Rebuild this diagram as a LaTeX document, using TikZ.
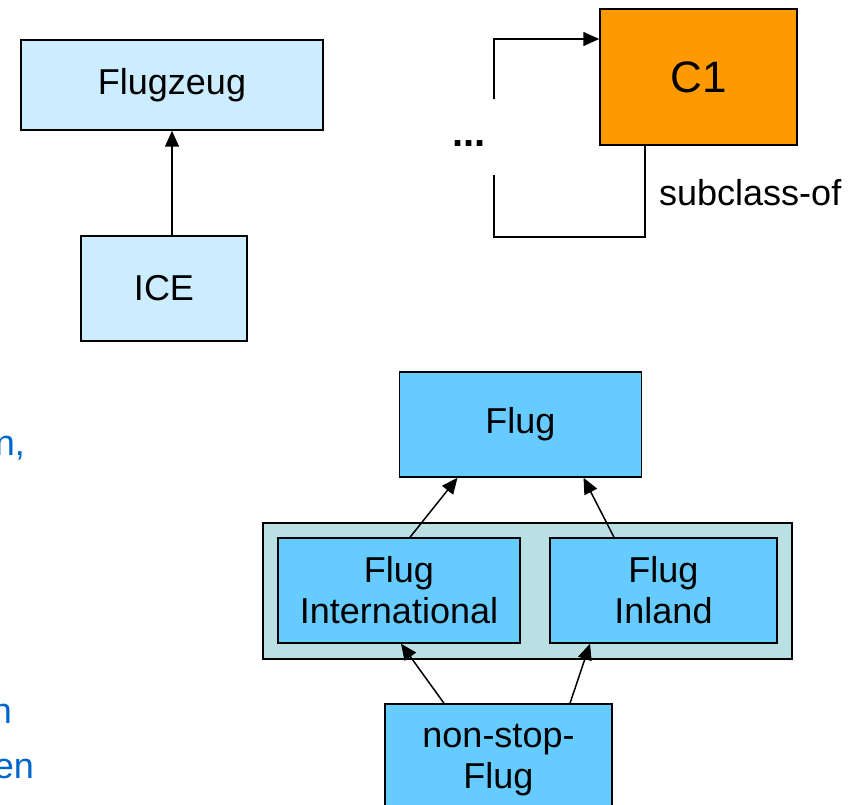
\documentclass[tikz,border=0pt]{standalone}
\usepackage{fontspec}
\setmainfont{Liberation Sans}
\usepackage{xcolor}
\usetikzlibrary{arrows.meta,positioning}
\definecolor{paleblue}{HTML}{CCECFF}
\definecolor{skyblue}{HTML}{66CCFF}
\definecolor{groupfill}{HTML}{BBE0E3}
\definecolor{orangebox}{HTML}{FF9900}
\definecolor{textblue}{HTML}{0066CC}
\tikzset{
  cls/.style={draw=black, line width=1.5pt, fill=skyblue, inner sep=0pt,
              font=\fontsize{36}{41}\selectfont, align=center},
  arr/.style={-{Triangle[length=16pt, width=14pt]}, line width=1.5pt},
  conn/.style={line width=1.5pt}
}
\begin{document}
\begin{tikzpicture}[x=1pt, y=-1pt]
  \clip (0,0) rectangle (859,805);
  % left: Flugzeug / ICE
  \node[cls, fill=paleblue, minimum width=302pt, minimum height=90pt] (flugzeug) at (172,85) {Flugzeug};
  \node[cls, fill=paleblue, minimum width=166pt, minimum height=105pt] (ice) at (164,288.5) {ICE};
  \draw[arr] (ice.north -| flugzeug.south) -- (flugzeug.south);
  % right: C1 with subclass-of loop
  \node[cls, fill=orangebox, minimum width=197pt, minimum height=136pt,
        font=\fontsize{44}{50}\selectfont] (c1) at (698.5,77) {C1};
  \coordinate (gapbot) at (494,175);
  \coordinate (gaptop) at (494,99);
  \draw[conn] ([xshift=-53.5pt]c1.south) -- ++(0,91) -| (gapbot);
  \draw[arr] (gaptop) |- ([yshift=38pt]c1.west);
  \node[font=\fontsize{40}{41}\selectfont\bfseries] (dots) at (469,144) {...};
  \node[anchor=west, inner sep=0pt, font=\fontsize{36}{41}\selectfont] (sublabel) at (659,193) {subclass-of};
  % bottom: Flug hierarchy
  \node[draw=black, line width=1.5pt, fill=groupfill, minimum width=529pt, minimum height=136pt] (group) at (527.5,591) {};
  \node[cls, minimum width=242pt, minimum height=105pt] (flug) at (520.5,424.5) {Flug};
  \node[cls, minimum width=242pt, minimum height=105pt] (intl) at (399,590.5) {Flug\\International};
  \node[cls, minimum width=227pt, minimum height=105pt] (inland) at (663.5,590.5) {Flug\\Inland};
  \node[cls, minimum width=227pt, minimum height=112pt] (nonstop) at (498.5,760) {non-stop-\\Flug};
  \draw[arr] ([xshift=11pt]intl.north) -- ([xshift=-63pt]flug.south);
  \draw[arr] ([xshift=-49.5pt]inland.north) -- ([xshift=63pt]flug.south);
  \draw[arr] ([xshift=-54.5pt]nonstop.north) -- ([xshift=2pt]intl.south);
  \draw[arr] ([xshift=71.5pt]nonstop.north) -- ([xshift=-73.5pt]inland.south);
  % cut-off text on the left
  \node[anchor=base east, inner sep=0pt, text=textblue, font=\fontsize{36}{41}\selectfont] (txta) at (25,455) {n,};
  \node[anchor=base east, inner sep=0pt, text=textblue, font=\fontsize{36}{41}\selectfont] (txtb) at (12,723) {n};
  \node[anchor=base east, inner sep=0pt, text=textblue, font=\fontsize{36}{41}\selectfont] (txtc) at (34,778) {en};
\end{tikzpicture}
\end{document}
